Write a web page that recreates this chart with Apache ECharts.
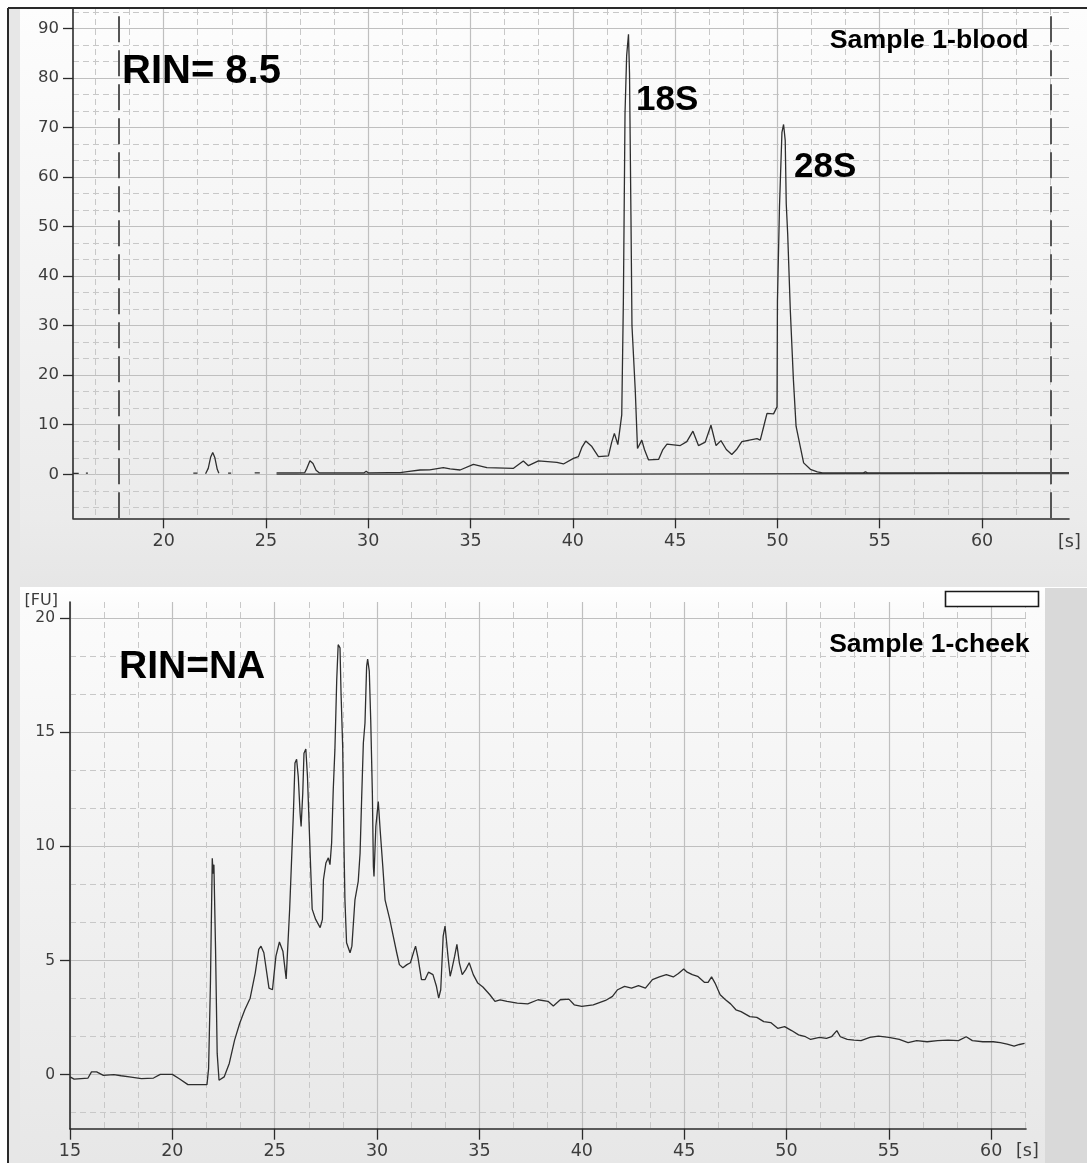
<!DOCTYPE html>
<html>
<head>
<meta charset="utf-8">
<script src="https://cdn.jsdelivr.net/npm/echarts@6/dist/echarts.min.js"></script>
<style>
html,body{margin:0;padding:0;background:#ffffff;}
#chart{width:1087px;height:1163px;}
</style>
</head>
<body>
<div id="chart"></div>
<script>
// ---------- data ----------
// Sample 1-blood electropherogram: [time s, fluorescence FU]; null = no visible trace
const bloodTrace = [
  [15.57,0.2],[15.85,0.2],[15.9,null],
  [16.2,0.25],[16.3,0.25],[16.35,null],
  [21.45,0.25],[21.65,0.25],[21.7,null],
  [22.05,0.1],[22.18,1.2],[22.3,3.5],[22.4,4.4],[22.5,3.4],[22.62,1.0],[22.7,0.2],[22.75,null],
  [23.15,0.25],[23.3,0.25],[23.35,null],
  [24.45,0.3],[24.7,0.3],[24.75,null],
  [25.52,0.3],[26.5,0.3],[26.9,0.35],[27.0,1.2],[27.15,2.75],[27.3,2.2],[27.45,0.8],[27.6,0.3],
  [28.3,0.3],[29.8,0.3],[29.9,0.6],[30.0,0.3],[31.0,0.35],[31.56,0.33],[32.0,0.6],[32.53,0.87],
  [33.0,0.9],[33.67,1.33],[34.0,1.1],[34.49,0.87],[35.14,2.0],[35.8,1.33],[37.1,1.2],[37.58,2.7],
  [37.83,1.74],[38.32,2.7],[39.22,2.4],[39.54,2.08],[40.03,3.2],[40.27,3.55],[40.45,5.5],[40.63,6.7],
  [40.93,5.6],[41.25,3.55],[41.74,3.7],[41.9,6.5],[42.03,8.26],[42.2,6.0],[42.28,5.7],[42.39,12],
  [42.47,35],[42.55,72.8],[42.63,84.5],[42.72,88.8],[42.77,80.9],[42.84,52.3],[42.89,30],[43.05,17],
  [43.16,5.2],[43.37,6.9],[43.5,5.0],[43.7,2.9],[44.19,3.0],[44.4,5.0],[44.6,6.1],[45.25,5.8],
  [45.57,6.6],[45.87,8.7],[46.14,5.8],[46.47,6.5],[46.75,9.9],[47.0,5.8],[47.24,6.8],[47.5,5.0],
  [47.77,4.0],[48.0,5.0],[48.26,6.6],[49.0,7.2],[49.16,6.9],[49.35,10.0],[49.49,12.3],[49.81,12.2],
  [49.98,13.6],[50.0,35],[50.1,54],[50.22,69],[50.3,70.6],[50.38,67.4],[50.43,54.6],[50.5,48.6],
  [50.63,33],[50.78,19.1],[50.91,9.7],[51.11,5.7],[51.28,2.3],[51.61,1.0],[51.95,0.5],[52.2,0.3],
  [54.2,0.3],[54.3,0.5],[54.4,0.3],[64.25,0.3]
];
// Baseline drawn under the blood trace
const bloodBaseline = [[25.52,0.05],[40.6,0.05],[40.62,0.25],[64.25,0.25]];
// Alignment-marker positions (dashed vertical lines)
const alignMarkers = [17.83, 63.36];

// Sample 1-cheek electropherogram: [time s, fluorescence FU]
const cheekTrace = [
  [15.0,-0.1],[15.2,-0.2],[15.88,-0.15],[16.05,0.12],[16.3,0.12],[16.63,-0.03],[17.14,0],[17.5,-0.05],
  [17.9,-0.1],[18.49,-0.18],[19.08,-0.15],[19.41,0.01],[20.0,0.01],[20.34,-0.18],[20.76,-0.44],
  [21.18,-0.44],[21.69,-0.44],[21.77,0.26],[21.86,4.0],[21.95,9.48],[21.99,8.8],[22.03,9.2],
  [22.11,5.49],[22.19,0.93],[22.28,-0.25],[22.53,-0.1],[22.78,0.49],[23.04,1.51],[23.29,2.25],
  [23.54,2.84],[23.8,3.35],[24.05,4.46],[24.22,5.49],[24.33,5.63],[24.47,5.34],[24.72,3.79],
  [24.89,3.72],[25.06,5.19],[25.23,5.81],[25.4,5.41],[25.56,4.19],[25.73,7.25],[25.83,9.55],
  [25.91,11.38],[25.99,13.65],[26.07,13.82],[26.15,13.06],[26.24,11.45],[26.29,10.87],[26.37,12.33],
  [26.43,14.08],[26.52,14.27],[26.6,13.06],[26.73,9.7],[26.83,7.25],[27.0,6.8],[27.22,6.44],
  [27.33,6.8],[27.38,8.54],[27.5,9.27],[27.62,9.5],[27.7,9.2],[27.78,10.15],[27.86,12.49],
  [27.94,14.24],[28.03,17.31],[28.1,18.84],[28.19,18.7],[28.24,16.72],[28.32,14.38],[28.39,9.7],
  [28.43,7.66],[28.51,5.78],[28.68,5.34],[28.77,5.63],[28.92,7.66],[29.08,8.47],[29.17,9.7],
  [29.25,12.2],[29.33,14.53],[29.41,15.41],[29.49,17.89],[29.54,18.21],[29.62,17.68],[29.69,15.55],
  [29.77,12.34],[29.82,9.12],[29.85,8.68],[29.94,10.87],[30.06,11.97],[30.15,10.73],[30.28,9.12],
  [30.39,7.66],[30.62,6.8],[30.79,6.07],[30.96,5.34],[31.09,4.82],[31.26,4.68],[31.46,4.82],
  [31.63,4.9],[31.8,5.41],[31.88,5.63],[32.0,5.12],[32.17,4.16],[32.34,4.16],[32.51,4.49],
  [32.73,4.38],[32.9,3.87],[33.01,3.35],[33.11,3.72],[33.23,6.07],[33.32,6.51],[33.4,6.44],
  [33.48,5.04],[33.57,4.31],[33.65,4.6],[33.79,5.19],[33.9,5.71],[34.02,4.9],[34.16,4.38],
  [34.33,4.6],[34.5,4.9],[34.7,4.38],[34.92,4.01],[35.17,3.84],[35.51,3.5],[35.76,3.21],
  [36.01,3.28],[36.35,3.21],[36.85,3.13],[37.36,3.1],[37.86,3.28],[38.35,3.21],[38.61,3.01],
  [38.95,3.28],[39.37,3.31],[39.63,3.06],[40.0,2.99],[40.56,3.06],[41.16,3.25],[41.5,3.43],
  [41.75,3.72],[42.09,3.87],[42.43,3.79],[42.77,3.9],[43.11,3.79],[43.45,4.16],[43.79,4.28],
  [44.13,4.38],[44.47,4.28],[44.72,4.43],[44.98,4.63],[45.15,4.49],[45.4,4.38],[45.66,4.31],
  [46.0,4.04],[46.17,4.04],[46.34,4.28],[46.51,4.01],[46.76,3.5],[47.02,3.28],[47.27,3.1],
  [47.53,2.84],[47.78,2.76],[48.21,2.54],[48.55,2.51],[48.89,2.32],[49.23,2.28],[49.57,2.03],
  [49.91,2.1],[50.25,1.93],[50.59,1.74],[50.93,1.66],[51.18,1.54],[51.61,1.63],[51.95,1.59],
  [52.2,1.66],[52.46,1.93],[52.63,1.66],[52.97,1.54],[53.3,1.51],[53.64,1.49],[54.07,1.63],
  [54.49,1.69],[55.0,1.63],[55.51,1.54],[55.94,1.4],[56.36,1.49],[56.87,1.44],[57.38,1.49],
  [57.89,1.51],[58.4,1.49],[58.78,1.66],[59.08,1.49],[59.59,1.44],[60.1,1.44],[60.44,1.4],
  [60.78,1.34],[61.12,1.25],[61.38,1.32],[61.63,1.37]
];

// Axis ranges and tick labels
const topXRange = [15.57, 64.25];
const topYRange = [-8.88, 93.9];
const botXRange = [15, 61.7];
const botYRange = [-2.37, 20.71];
const topXTicks = [20, 25, 30, 35, 40, 45, 50, 55, 60];
const topYTicks = [0, 10, 20, 30, 40, 50, 60, 70, 80, 90];
const botXTicks = [15, 20, 25, 30, 35, 40, 45, 50, 55, 60];
const botYTicks = [0, 5, 10, 15, 20];
const topXStep = 5, topYStep = 10, botXStep = 5, botYStep = 5;

// minor grid positions: thirds of each major step inside the range
function minorPositions(step, range) {
  const m = step / 3, out = [];
  for (let k = Math.ceil(range[0] / m - 1e-6); k * m <= range[1] + 1e-6; k++) {
    if (k % 3 !== 0) out.push(+(k * m).toFixed(4));
  }
  return out;
}

// ---------- styling ----------
const labelFont = 'DejaVu Sans';
const labelColor = '#3c3c3c';
const axisDark = '#2b2b2b';
const gridSolid = '#bfbfbf';
const gridDash = '#c8c8c8';
const traceColor = '#2e2e2e';

function mainAxis(kind, range, ticks, o) {
  return Object.assign({
    type: 'value', min: range[0], max: range[1], gridIndex: o.grid,
    position: kind === 'x' ? 'bottom' : 'left',
    axisLine: { show: true, onZero: false, lineStyle: { color: axisDark, width: 1.6 } },
    axisTick: { show: true, customValues: ticks, length: o.tickLen, lineStyle: { color: axisDark, width: 1.3 } },
    axisLabel: { show: true, customValues: ticks, margin: o.margin, color: labelColor,
                 fontFamily: labelFont, fontSize: o.fontSize },
    splitLine: { show: true, lineStyle: { color: gridSolid, width: 1.2 } },
    minorTick: { show: false }, minorSplitLine: { show: false }
  }, o.extra || {});
}
function minorAxis(kind, range, step, grid) {
  return {
    type: 'value', min: range[0], max: range[1], gridIndex: grid,
    position: kind === 'x' ? 'bottom' : 'left',
    axisLine: { show: false },
    axisTick: { show: false, customValues: minorPositions(step, range) },
    axisLabel: { show: false },
    splitLine: { show: true, lineStyle: { color: gridDash, width: 1, type: [6, 4] } }
  };
}

const chart = echarts.init(document.getElementById('chart'), null, { renderer: 'canvas' });

const W = 1087, H = 1163;
const boldFont = (s) => 'bold ' + s + 'px "Liberation Sans", Arial, Helvetica, sans-serif';

const option = {
  animation: false,
  backgroundColor: '#ffffff',
  grid: [
    { left: 73, top: 9, width: 996, height: 509.3, outerBoundsMode: 'none', containLabel: false },
    { left: 70, top: 602, width: 956, height: 526.7, outerBoundsMode: 'none', containLabel: false }
  ],
  xAxis: [
    mainAxis('x', topXRange, topXTicks, { grid: 0, tickLen: 10, margin: 14, fontSize: 17.5,
      extra: { name: '[s]', nameLocation: 'end', nameGap: -11,
        nameTextStyle: { fontFamily: labelFont, fontSize: 17.5, color: labelColor, align: 'left',
                         verticalAlign: 'top', padding: [15, 0, 0, 0] } } }),
    minorAxis('x', topXRange, topXStep, 0),
    mainAxis('x', botXRange, botXTicks, { grid: 1, tickLen: 11, margin: 14, fontSize: 17.5,
      extra: { name: '[s]', nameLocation: 'end', nameGap: -10,
        nameTextStyle: { fontFamily: labelFont, fontSize: 17.5, color: labelColor, align: 'left',
                         verticalAlign: 'top', padding: [14, 0, 0, 0] } } }),
    minorAxis('x', botXRange, botXStep, 1)
  ],
  yAxis: [
    mainAxis('y', topYRange, topYTicks, { grid: 0, tickLen: 10, margin: 14, fontSize: 16.5 }),
    minorAxis('y', topYRange, topYStep, 0),
    mainAxis('y', botYRange, botYTicks, { grid: 1, tickLen: 10, margin: 15, fontSize: 15.5,
      extra: { name: '[FU]', nameLocation: 'end', nameGap: 1,
        nameTextStyle: { fontFamily: labelFont, fontSize: 16, color: labelColor, align: 'right',
                         verticalAlign: 'middle', padding: [0, 12, 0, 0] } } }),
    minorAxis('y', botYRange, botYStep, 1)
  ],
  series: [
    {
      name: 'baseline', type: 'line', xAxisIndex: 0, yAxisIndex: 0, data: bloodBaseline,
      showSymbol: false, symbol: 'none', silent: true, z: 3,
      lineStyle: { color: '#3a3a3a', width: 1.2 },
      markLine: {
        silent: true, symbol: ['none', 'none'], label: { show: false },
        lineStyle: { color: '#555555', width: 2, type: [26, 8] },
        emphasis: { disabled: true },
        data: alignMarkers.map(v => ({ xAxis: v }))
      }
    },
    {
      name: 'Sample 1-blood', type: 'line', xAxisIndex: 0, yAxisIndex: 0, data: bloodTrace,
      showSymbol: false, symbol: 'none', silent: true, connectNulls: false, z: 4,
      lineStyle: { color: traceColor, width: 1.3 }
    },
    {
      name: 'Sample 1-cheek', type: 'line', xAxisIndex: 2, yAxisIndex: 2, data: cheekTrace,
      showSymbol: false, symbol: 'none', silent: true, z: 4,
      lineStyle: { color: traceColor, width: 1.3 }
    }
  ],
  graphic: [
    // panel backgrounds
    { type: 'rect', z: -20, silent: true, shape: { x: 9, y: 9, width: W - 9, height: 578 },
      style: { fill: new echarts.graphic.LinearGradient(0, 0, 0, 1, [
        { offset: 0, color: '#fdfdfd' }, { offset: 0.88, color: '#ebebeb' }, { offset: 1, color: '#e6e6e6' }]) } },
    { type: 'rect', z: -20, silent: true, shape: { x: 9, y: 587, width: 1036, height: H - 587 },
      style: { fill: new echarts.graphic.LinearGradient(0, 0, 0, 1, [
        { offset: 0, color: '#ffffff' }, { offset: 0.04, color: '#fbfbfb' }, { offset: 1, color: '#e7e7e7' }]) } },
    { type: 'rect', z: -19, silent: true, shape: { x: 1045, y: 588, width: W - 1045, height: H - 588 },
      style: { fill: '#d9d9d9' } },
    { type: 'rect', z: -19, silent: true, shape: { x: 9, y: 9, width: 11, height: H - 9 },
      style: { fill: '#e7e7e7' } },
    { type: 'rect', z: -19, silent: true, shape: { x: 20, y: 587, width: 1025, height: 2 },
      style: { fill: '#ffffff' } },
    // frame lines
    { type: 'line', z: 50, silent: true, shape: { x1: 8, y1: 8, x2: W, y2: 8 },
      style: { stroke: '#2a2a2a', lineWidth: 2 } },
    { type: 'line', z: 50, silent: true, shape: { x1: 8, y1: 8, x2: 8, y2: H },
      style: { stroke: '#2a2a2a', lineWidth: 2 } },
    // small box at top right of lower panel
    { type: 'rect', z: 50, silent: true, shape: { x: 945.5, y: 591.5, width: 93, height: 15 },
      style: { fill: '#ffffff', stroke: '#1a1a1a', lineWidth: 1.6 } },
    // annotations
    { type: 'text', z: 60, silent: true, x: 122, y: 72,
      style: { text: 'RIN= 8.5', font: boldFont(40), fill: '#000', align: 'left', verticalAlign: 'middle' } },
    { type: 'text', z: 60, silent: true, x: 636, y: 100,
      style: { text: '18S', font: boldFont(35), fill: '#000', align: 'left', verticalAlign: 'middle' } },
    { type: 'text', z: 60, silent: true, x: 794, y: 167.5,
      style: { text: '28S', font: boldFont(35), fill: '#000', align: 'left', verticalAlign: 'middle' } },
    { type: 'text', z: 60, silent: true, x: 1028.5, y: 41,
      style: { text: 'Sample 1-blood', font: boldFont(26.7), fill: '#000', align: 'right', verticalAlign: 'middle' } },
    { type: 'text', z: 60, silent: true, x: 119, y: 667,
      style: { text: 'RIN=NA', font: boldFont(39), fill: '#000', align: 'left', verticalAlign: 'middle' } },
    { type: 'text', z: 60, silent: true, x: 1029.5, y: 645,
      style: { text: 'Sample 1-cheek', font: boldFont(26.5), fill: '#000', align: 'right', verticalAlign: 'middle' } }
  ]
};

chart.setOption(option);
</script>
</body>
</html>
